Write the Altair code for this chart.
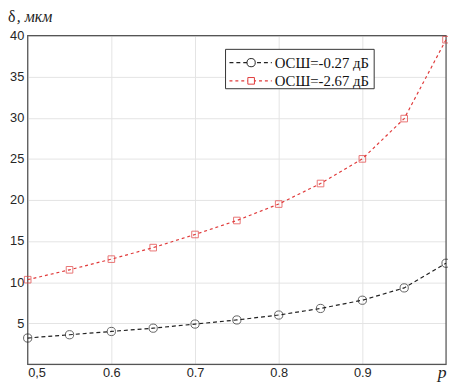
import altair as alt
import pandas as pd

p_vals = [0.5, 0.55, 0.6, 0.65, 0.7, 0.75, 0.8, 0.85, 0.9, 0.95, 1.0]
snr_a = [3.2, 3.6, 4.0, 4.4, 4.9, 5.4, 6.0, 6.8, 7.8, 9.3, 12.3]
snr_b = [10.3, 11.5, 12.8, 14.2, 15.8, 17.5, 19.5, 22.0, 25.0, 29.9, 39.5]
labels = ["ОСШ=-0.27 дБ", "ОСШ=-2.67 дБ"]
colors = ["#222222", "#e03a3a"]

df = pd.DataFrame({
    "p": p_vals * 2,
    "d": snr_a + snr_b,
    "s": [labels[0]] * len(p_vals) + [labels[1]] * len(p_vals),
})

W, H = 425, 334

xs = alt.X("p:Q", scale=alt.Scale(domain=[0.5, 1.0], nice=False),
           axis=alt.Axis(values=[0.5, 0.6, 0.7, 0.8, 0.9, 1.0],
                         labelExpr="datum.value == 1 ? '' : datum.value == 0.5 ? '0,5' : format(datum.value, '.1f')",
                         title=None, grid=True, ticks=False, domain=False,
                         labelFont="Liberation Sans", labelFontSize=13, labelColor="#262626",
                         labelPadding=2, gridColor="#e3e3e3"))
ys = alt.Y("d:Q", scale=alt.Scale(domain=[0, 40], nice=False),
           axis=alt.Axis(values=[5, 10, 15, 20, 25, 30, 35, 40], title=None, grid=True,
                         ticks=False, domain=False,
                         labelFont="Liberation Sans", labelFontSize=13, labelColor="#262626",
                         labelPadding=4, gridColor="#e3e3e3"))

frame = alt.Chart(pd.DataFrame({"a": [0]})).mark_rect(
    fill="transparent", stroke="#555555", strokeWidth=1.2).encode(
    x=alt.value(0), x2=alt.value(W), y=alt.value(0), y2=alt.value(H))

line_a = alt.Chart(df[df.s == labels[0]]).mark_line(
    color=colors[0], strokeDash=[4, 3], strokeWidth=1.2).encode(x=xs, y=ys)
line_b = alt.Chart(df[df.s == labels[1]]).mark_line(
    color=colors[1], strokeDash=[3, 3], strokeWidth=1.2).encode(x=xs, y=ys)
pts_a = alt.Chart(df[df.s == labels[0]]).mark_point(
    shape="circle", color=colors[0], filled=False, size=70, strokeWidth=1).encode(x=xs, y=ys)
pts_b = alt.Chart(df[df.s == labels[1]]).mark_point(
    shape="square", color=colors[1], filled=False, size=45, strokeWidth=1).encode(x=xs, y=ys)

# legend
leg_box = alt.Chart(pd.DataFrame({"a": [0]})).mark_rect(
    fill="white", stroke="#333333", strokeWidth=1).encode(
    x=alt.value(201), x2=alt.value(352), y=alt.value(14), y2=alt.value(54))
leg_items = []
for i, (lab, col, shp, sz, dash) in enumerate(zip(labels, colors, ["circle", "square"], [70, 45], [[4, 3], [3, 3]])):
    yy = 27.5 + i * 18.5
    leg_items.append(alt.Chart(pd.DataFrame({"a": [0]})).mark_rule(
        color=col, strokeDash=dash, strokeWidth=1.2).encode(
        x=alt.value(205), x2=alt.value(248), y=alt.value(yy)))
    leg_items.append(alt.Chart(pd.DataFrame({"a": [0]})).mark_point(
        shape=shp, color=col, filled=False, size=sz, strokeWidth=1, fill="white", fillOpacity=1).encode(
        x=alt.value(227), y=alt.value(yy)))
    leg_items.append(alt.Chart(pd.DataFrame({"t": [lab]})).mark_text(
        align="left", baseline="middle", font="Liberation Serif", fontSize=15, color="#111111").encode(
        x=alt.value(251), y=alt.value(yy), text="t:N"))

ytitle1 = alt.Chart(pd.DataFrame({"t": ["δ"]})).mark_text(
    align="left", baseline="alphabetic", font="Liberation Serif", fontSize=16,
    color="#222222").encode(x=alt.value(-20), y=alt.value(-14), text="t:N")
ytitle2 = alt.Chart(pd.DataFrame({"t": [", мкм"]})).mark_text(
    align="left", baseline="alphabetic", font="Liberation Serif", fontSize=16,
    fontStyle="italic", color="#222222").encode(x=alt.value(-11), y=alt.value(-14), text="t:N")
xtitle = alt.Chart(pd.DataFrame({"t": ["p"]})).mark_text(
    align="center", baseline="middle", font="Liberation Serif", fontSize=18,
    fontStyle="italic", color="#222222").encode(x=alt.value(W - 4), y=alt.value(H + 9), text="t:N")

chart = alt.layer(frame, line_a, line_b, pts_a, pts_b, leg_box, *leg_items, ytitle1, ytitle2, xtitle).properties(
    width=W, height=H,
    autosize=alt.AutoSizeParams(type="none"),
    padding={"left": 20, "top": 25, "right": 2, "bottom": 19},
).configure_view(stroke=None).configure(background="white")

chart.save("out.html", embed_options={"renderer": "svg", "actions": False})
